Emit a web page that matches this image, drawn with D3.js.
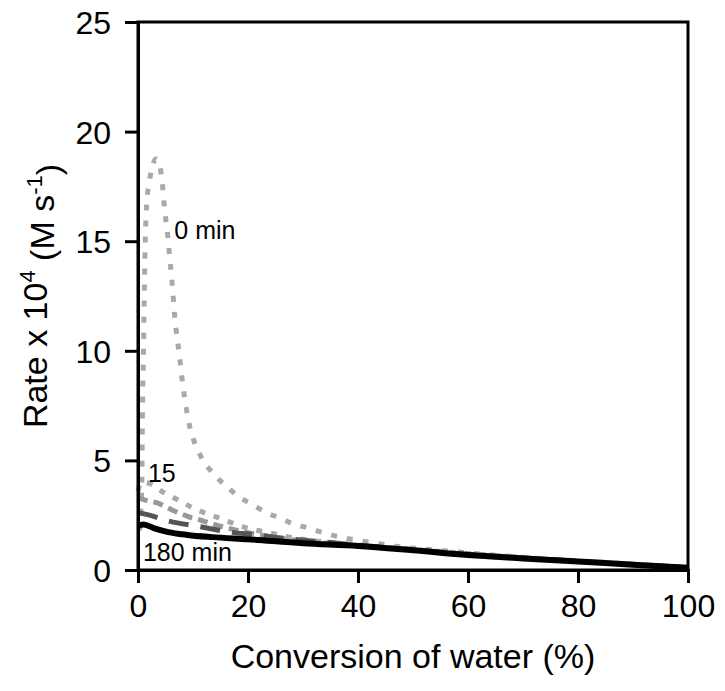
<!DOCTYPE html>
<html>
<head>
<meta charset="utf-8">
<script src="https://cdn.jsdelivr.net/npm/d3@7"></script>
<style>
  html, body { margin: 0; padding: 0; background: #fff; }
  svg { display: block; font-family: "Liberation Sans", Arial, sans-serif; }
</style>
</head>
<body>
<svg id="chart" width="725" height="691"></svg>
<script>
// ---- data ----
const xTicks = [0, 20, 40, 60, 80, 100];
const yTicks = [0, 5, 10, 15, 20, 25];

// 0 min (light grey, dotted)
const x0min = [0.3, 0.5, 0.7, 0.8, 1.0, 1.2, 1.3, 1.6, 2.0, 2.6, 3.3, 3.9, 4.4, 4.9, 5.3, 5.6, 6.2, 6.7, 7.5, 8.2, 8.7, 9.3, 10.2, 11.5, 13.6, 16.2, 18.4, 20.9, 23.5, 25.8, 28.2, 30.9, 33.3, 37.5, 41.8, 46.7, 51.6, 56.2, 60, 70, 80, 90, 100];
const y0min = [1.8, 2.6, 4.0, 7.0, 10.0, 13.5, 14.8, 16.8, 17.6, 18.4, 18.75, 18.5, 17.7, 16.3, 15.5, 14.7, 13.1, 11.5, 9.85, 8.35, 7.5, 6.66, 5.88, 5.15, 4.42, 3.79, 3.33, 2.97, 2.6, 2.37, 2.1, 1.92, 1.73, 1.46, 1.28, 1.09, 0.96, 0.87, 0.78, 0.58, 0.42, 0.26, 0.1];

// 15 min (light grey, dotted)
const x15min = [0, 0.6, 1.8, 4.5, 7.3, 10, 12.7, 15.3, 17.6, 20.5, 23.3, 27.5, 32.4, 40, 50, 60, 70, 80, 90, 100];
const y15min = [3.6, 4.0, 3.97, 3.56, 3.19, 2.83, 2.55, 2.33, 2.1, 1.87, 1.73, 1.5, 1.32, 1.14, 0.94, 0.75, 0.57, 0.41, 0.26, 0.1];

// intermediate (medium grey, short dashes)
const xMid = [0, 1.3, 3.5, 6.2, 8.9, 11.8, 14.9, 19.5, 24.5, 29.8, 40, 50, 60, 70, 80, 90, 100];
const yMid = [3.3, 3.19, 3.06, 2.74, 2.46, 2.24, 2.0, 1.73, 1.5, 1.32, 1.12, 0.92, 0.72, 0.56, 0.4, 0.25, 0.1];

// intermediate (dark grey, long dashes)
const xDark = [0, 1.3, 5.5, 11.6, 16.7, 21.6, 26, 35, 45, 60, 80, 100];
const yDark = [2.6, 2.55, 2.24, 1.96, 1.73, 1.6, 1.46, 1.25, 1.02, 0.71, 0.4, 0.1];

// 180 min (black, solid)
const x180min = [0, 1, 3, 5.5, 9, 13.5, 20, 30, 40, 50, 60, 70, 80, 90, 100];
const y180min = [2.0, 2.08, 1.9, 1.73, 1.6, 1.5, 1.4, 1.22, 1.1, 0.9, 0.68, 0.53, 0.39, 0.24, 0.1];

const seriesDefs = [
  { xs: x0min,   ys: y0min,   color: "#a9a9a9", width: 5, dash: "6,10" },
  { xs: x15min,  ys: y15min,  color: "#a9a9a9", width: 5, dash: "6,9" },
  { xs: xMid,    ys: yMid,    color: "#999999", width: 5, dash: "10,6" },
  { xs: xDark,   ys: yDark,   color: "#555555", width: 5, dash: "20,12" },
  { xs: x180min, ys: y180min, color: "#000000", width: 6, dash: null }
];

const labels = [
  { text: "0 min",   x: 6.6,  y: 15.1 },
  { text: "15",      x: 1.8,  y: 4.0 },
  { text: "180 min", x: 0.9,  y: 0.4 }
];

// ---- layout ----
const svg = d3.select("#chart");
const L = 138, R = 688, T = 22, B = 570;
const x = d3.scaleLinear().domain([0, 100]).range([L, R]);
const y = d3.scaleLinear().domain([0, 25]).range([B, T]);

// curves
const line = d3.line().curve(d3.curveMonotoneX);
seriesDefs.forEach(s => {
  const pts = s.xs.map((v, i) => [x(v), y(s.ys[i])]);
  const p = svg.append("path")
    .attr("d", line(pts))
    .attr("fill", "none")
    .attr("stroke", s.color)
    .attr("stroke-width", s.width)
    .attr("stroke-linecap", "butt");
  if (s.dash) p.attr("stroke-dasharray", s.dash);
});

// frame
svg.append("rect")
  .attr("x", L).attr("y", T)
  .attr("width", R - L).attr("height", B - T)
  .attr("fill", "none").attr("stroke", "#000").attr("stroke-width", 3);

// axes
const xAxis = d3.axisBottom(x).tickValues(xTicks).tickSize(13).tickPadding(11).tickFormat(d3.format("d"));
const yAxis = d3.axisLeft(y).tickValues(yTicks).tickSize(13).tickPadding(14).tickFormat(d3.format("d"));

const gx = svg.append("g").attr("transform", `translate(0,${B})`).call(xAxis);
const gy = svg.append("g").attr("transform", `translate(${L},0)`).call(yAxis);
[gx, gy].forEach(g => {
  g.select(".domain").attr("stroke", "#000").attr("stroke-width", 3);
  g.selectAll(".tick line").attr("stroke", "#000").attr("stroke-width", 3);
  g.selectAll(".tick text")
    .attr("fill", "#000")
    .style("font-size", "32px")
    .style("font-family", "'Liberation Sans', Arial, sans-serif");
});
gx.selectAll(".tick text").attr("dy", "0.72em");
gy.selectAll(".tick text").attr("dy", "0.36em");

// axis titles
svg.append("text")
  .attr("x", (L + R) / 2).attr("y", 668)
  .attr("text-anchor", "middle")
  .style("font-size", "34px")
  .text("Conversion of water (%)");

const yt = svg.append("text")
  .attr("transform", `translate(47,${(T + B) / 2}) rotate(-90)`)
  .attr("text-anchor", "middle")
  .style("font-size", "34px");
yt.append("tspan").text("Rate x 10");
yt.append("tspan").attr("dy", "-0.55em").style("font-size", "22px").text("4");
yt.append("tspan").attr("dy", "0.55em").text(" (M s");
yt.append("tspan").attr("dy", "-0.55em").style("font-size", "22px").text("-1");
yt.append("tspan").attr("dy", "0.55em").text(")");

// in-plot labels
labels.forEach(l => {
  svg.append("text")
    .attr("x", x(l.x)).attr("y", y(l.y))
    .style("font-size", "25px")
    .text(l.text);
});
</script>
</body>
</html>
